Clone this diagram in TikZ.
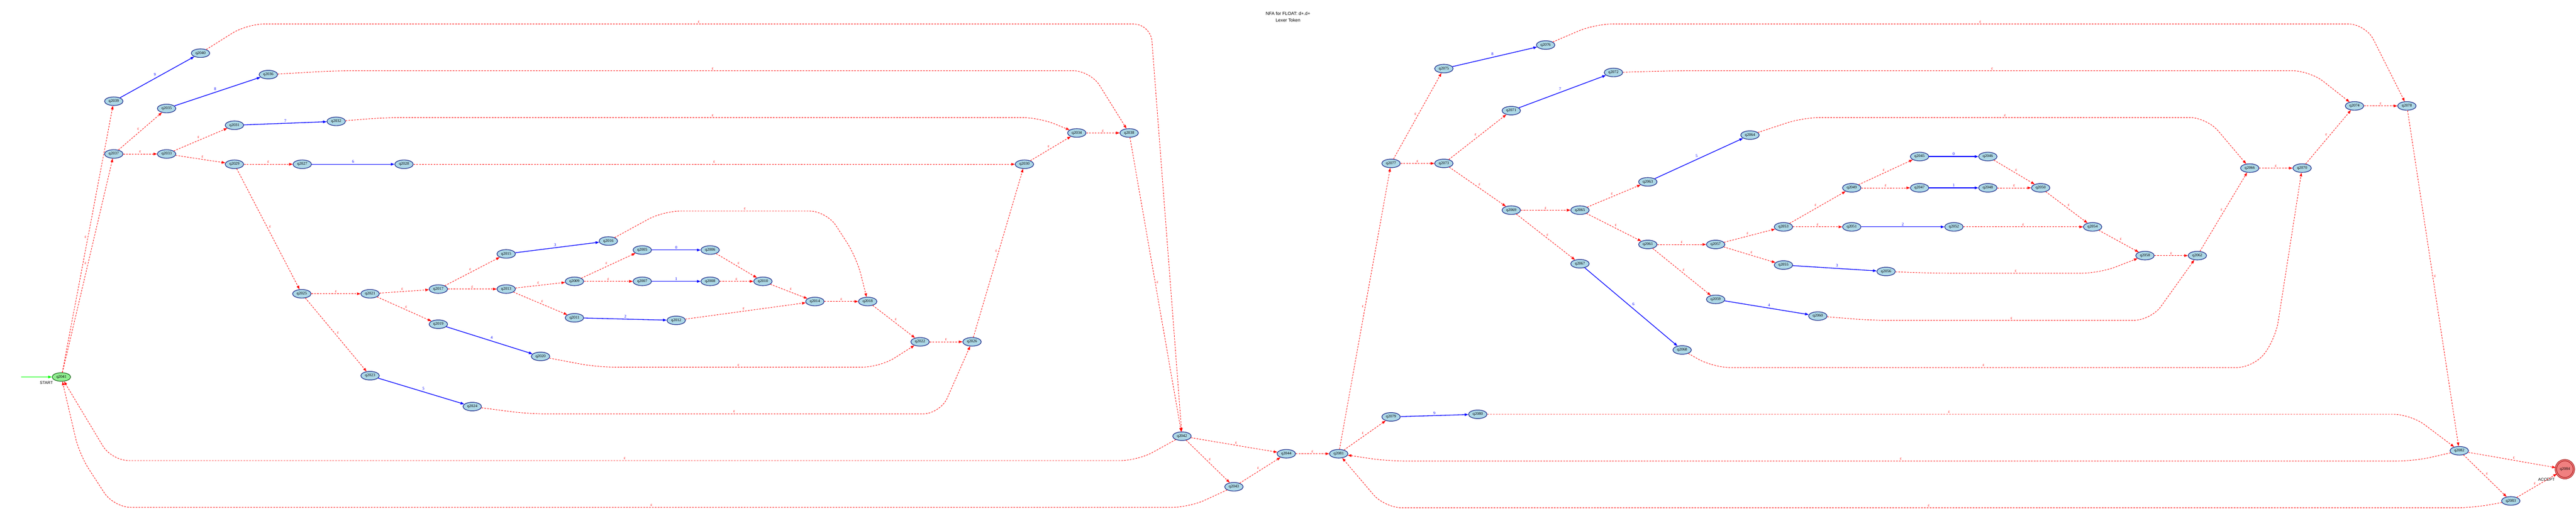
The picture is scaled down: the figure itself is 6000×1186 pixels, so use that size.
\documentclass[tikz,border=0pt]{standalone}
\usepackage{fontspec}
\setmainfont{Liberation Serif}
\newfontfamily\labelsans{Liberation Sans}
\usepackage{tikz}
\usetikzlibrary{arrows.meta,shapes.geometric}
\definecolor{nodeblue}{HTML}{ADD8E6}
\definecolor{navyline}{HTML}{1B2A8A}
\definecolor{startgreen}{HTML}{90EE90}
\definecolor{startline}{HTML}{1E6B1E}
\definecolor{acceptred}{HTML}{F08080}
\definecolor{acceptline}{HTML}{A01010}
\def\tinyfont{\fontsize{2.7}{3.2}\selectfont}
\tikzset{
  qnode/.style={ellipse, draw=navyline, fill=nodeblue, line width=0.4pt, minimum width=0.43cm, minimum height=0.2cm, inner sep=0pt, font=\tinyfont},
  startnode/.style={qnode, draw=startline, fill=startgreen},
  acceptnode/.style={circle, draw=acceptline, fill=acceptred, double=acceptred, double distance=0.6pt, line width=0.35pt, minimum size=0.42cm, inner sep=0pt, font=\tinyfont},
  tip/.style={-{Triangle[length=2.4pt,width=1.7pt]}},
  eps/.style={tip, red, line width=0.3pt, dash pattern=on 1.1pt off 0.8pt, rounded corners=0.4cm},
  sym/.style={tip, blue, line width=0.45pt},
  lbl/.style={font=\tinyfont, inner sep=0.6pt},
  startarrow/.style={tip, green, line width=0.6pt}
}

\begin{document}
\begin{tikzpicture}[x=0.01cm, y=-0.01cm]
		%%%%% START %%%%%
		\useasboundingbox (0,0) rectangle (6000,1186);
		
		\node[font=\labelsans\fontsize{3}{4.5}\selectfont, align=center] (title) at (3000,39) {NFA for FLOAT: d+.d+\\Lexer Token};
		
		% first d+
		\node[startnode] (q2041) at (143,879) {q2041};
		\coordinate (entry) at (49,879);
		\draw[startarrow] (entry) -- (q2041);
		\node[font=\labelsans\tinyfont] (startlbl) at (108,893) {START};
		
		\foreach \nm/\x/\y in {q2039/265/236, q2040/467/124, q2037/265/359, q2035/388/253, q2036/625/174,
			q2033/388/359, q2031/546/292, q2032/783/283, q2029/546/383, q2027/704/383, q2028/941/383,
			q2025/703/685, q2021/862/685, q2023/862/876, q2024/1100/948,
			q2017/1021/674, q2019/1021/756, q2020/1259/831, q2015/1179/592, q2016/1417/562,
			q2013/1179/674, q2009/1338/656, q2011/1338/741, q2012/1575/747,
			q2005/1496/583, q2006/1654/583, q2007/1496/656, q2008/1654/656, q2010/1777/656,
			q2014/1898/703, q2018/2021/703, q2022/2143/797, q2026/2264/797,
			q2030/2386/383, q2034/2508/310, q2038/2630/310,
			q2042/2753/1017, q2043/2874/1135, q2044/2996/1058}
			\node[qnode] (\nm) at (\x,\y) {\nm};
		
		% second d+
		\foreach \nm/\x/\y in {q2081/3118/1058, q2079/3240/972, q2080/3442/966,
			q2077/3240/381, q2075/3363/160, q2076/3600/105, q2073/3363/381, q2071/3520/258, q2072/3758/169,
			q2069/3520/490, q2065/3680/490, q2067/3680/615, q2068/3918/816,
			q2063/3838/424, q2064/4076/315, q2061/3838/570, q2057/3996/570, q2059/3996/698, q2060/4234/737,
			q2053/4154/529, q2055/4154/618, q2056/4393/633, q2049/4313/438, q2051/4313/529, q2052/4551/529,
			q2045/4471/365, q2046/4630/365, q2047/4471/438, q2048/4630/438, q2050/4753/438,
			q2054/4874/529, q2058/4996/596, q2062/5118/596, q2066/5240/392, q2070/5362/392,
			q2074/5484/247, q2078/5606/247, q2082/5728/1051, q2083/5848/1168}
			\node[qnode] (\nm) at (\x,\y) {\nm};
		
		\node[acceptnode] (q2084) at (5974,1094) {q2084};
		\node[font=\labelsans\tinyfont] (acceptlbl) at (5931,1118) {ACCEPT};
		
		% digit moves
		\foreach \a/\b/\d in {q2039/q2040/9, q2035/q2036/8, q2031/q2032/7, q2027/q2028/6, q2023/q2024/5,
			q2019/q2020/4, q2015/q2016/3, q2011/q2012/2, q2007/q2008/1, q2005/q2006/0,
			q2079/q2080/9, q2075/q2076/8, q2071/q2072/7, q2067/q2068/6, q2063/q2064/5,
			q2059/q2060/4, q2055/q2056/3, q2051/q2052/2, q2047/q2048/1, q2045/q2046/0}
			\draw[sym] (\a) -- node[lbl, auto, text=blue] {\d} (\b);
		
		% empty moves
		\foreach \a/\b in {q2041/q2039, q2041/q2037, q2037/q2035, q2037/q2033, q2033/q2031, q2033/q2029,
			q2029/q2027, q2029/q2025, q2025/q2021, q2025/q2023, q2021/q2017, q2021/q2019,
			q2017/q2015, q2017/q2013, q2013/q2009, q2013/q2011, q2009/q2005, q2009/q2007,
			q2006/q2010, q2008/q2010, q2010/q2014, q2012/q2014, q2014/q2018, q2018/q2022,
			q2022/q2026, q2026/q2030, q2028/q2030, q2030/q2034, q2034/q2038, q2038/q2042,
			q2042/q2043, q2042/q2044, q2043/q2044, q2044/q2081,
			q2081/q2079, q2081/q2077, q2077/q2075, q2077/q2073, q2073/q2071, q2073/q2069,
			q2069/q2065, q2069/q2067, q2065/q2063, q2065/q2061, q2061/q2057, q2061/q2059,
			q2057/q2053, q2057/q2055, q2053/q2049, q2053/q2051, q2049/q2045, q2049/q2047,
			q2046/q2050, q2048/q2050, q2050/q2054, q2052/q2054, q2054/q2058, q2058/q2062,
			q2062/q2066, q2066/q2070, q2070/q2074, q2074/q2078, q2078/q2082,
			q2082/q2083, q2082/q2084, q2083/q2084}
			\draw[eps] (\a) -- node[lbl, auto, text=red] {ε} (\b);
		
		% long empty moves, first d+
		\draw[eps] (q2040) -- (575,56) -- node[lbl, above, text=red] {ε} (2680,56) -- (q2042);
		\draw[eps] (q2036) -- (780,165) -- node[lbl, above, text=red] {ε} (2540,165) -- (q2038);
		\draw[eps] (q2032) -- (900,274) -- node[lbl, above, text=red] {ε} (2420,274) -- (q2034);
		\draw[eps] (q2016) -- (1545,492) -- node[lbl, above, text=red] {ε} (1925,492) -- (1995,600) -- (q2018);
		\draw[eps] (q2020) -- (1390,856) -- node[lbl, above, text=red] {ε} (2050,856) -- (q2022);
		\draw[eps] (q2024) -- (1230,965) -- node[lbl, above, text=red] {ε} (2190,965) -- (q2026);
		\draw[eps] (q2042) -- (2650,1074) -- node[lbl, above, text=red] {ε} (260,1074) -- (q2041);
		\draw[eps] (q2043) -- (2770,1183) -- node[lbl, above, text=red] {ε} (265,1183) -- (185,1060) -- (q2041);
		
		% long empty moves, second d+
		\draw[eps] (q2080) -- node[lbl, above, text=red] {ε} (5615,966) -- (q2082);
		\draw[eps] (q2082) -- (5625,1075) -- node[lbl, above, text=red] {ε} (3230,1075) -- (q2081);
		\draw[eps] (q2083) -- (5760,1184) -- node[lbl, above, text=red] {ε} (3225,1184) -- (q2081);
		\draw[eps] (q2076) -- (3715,56) -- node[lbl, above, text=red] {ε} (5510,56) -- (q2078);
		\draw[eps] (q2072) -- (3900,165) -- node[lbl, above, text=red] {ε} (5380,165) -- (q2074);
		\draw[eps] (q2064) -- (4200,274) -- node[lbl, above, text=red] {ε} (5140,274) -- (q2066);
		\draw[eps] (q2068) -- (3990,857) -- node[lbl, above, text=red] {ε} (5250,857) -- (5300,790) -- (q2070);
		\draw[eps] (q2060) -- (4360,747) -- node[lbl, above, text=red] {ε} (5010,747) -- (q2062);
		\draw[eps] (q2056) -- (4500,637) -- node[lbl, above, text=red] {ε} (4890,637) -- (q2058);
		
		%%%%% END %%%%%
\end{tikzpicture}
\end{document}
